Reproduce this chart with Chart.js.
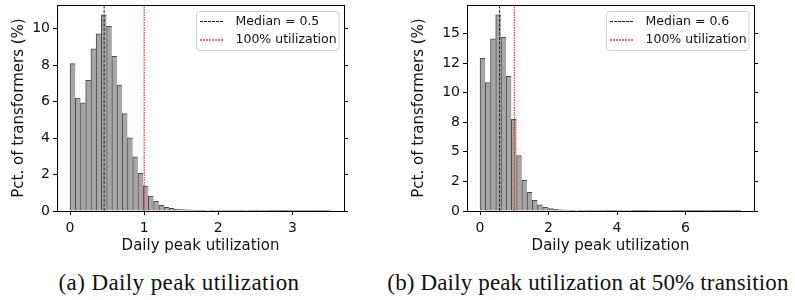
<!DOCTYPE html>
<html>
<head>
<meta charset="utf-8">
<script src="https://cdn.jsdelivr.net/npm/chart.js@4.4.0/dist/chart.umd.min.js"></script>
<style>
  body { margin: 0; background: #fff; width: 795px; height: 300px; position: relative; overflow: hidden; }
  .panel { position: absolute; top: 0; width: 395px; height: 255px; }
  .caption { position: absolute; top: 271px; font-family: 'Liberation Serif', serif; font-size: 23px; line-height: 23px;
             text-align: center; color: #111; white-space: nowrap; }
</style>
</head>
<body>
<div class="panel" style="left:0"><canvas id="left"></canvas></div>
<div class="panel" style="left:400px"><canvas id="right"></canvas></div>
<div class="caption" style="left:0;width:358px;letter-spacing:0.4px">(a) Daily peak utilization</div>
<div class="caption" style="left:383px;width:410px;letter-spacing:0.15px">(b) Daily peak utilization at 50% transition</div>
<script>
// histogram values (% of transformers per bin), 50 bins each
const leftValues = [8.08, 6.2, 5.93, 7.17, 8.9, 9.72, 10.76, 10.13, 8.48, 6.91,
  5.35, 4.01, 2.97, 2.06, 1.37, 0.82, 0.53, 0.31, 0.2, 0.15,
  0.11, 0.08, 0.06, 0.05, 0.04, 0.03, 0.025, 0.02, 0.018, 0.015,
  0.012, 0.01, 0.01, 0.008, 0.007, 0.006, 0.005, 0.005, 0.004, 0.004,
  0.003, 0.003, 0.002, 0.002, 0.002, 0.001, 0.001, 0.001, 0.001, 0.001];
const leftBinWidth = 0.0704;
const leftMedian = 0.46;

const rightValues = [12.9, 10.85, 14.55, 16.57, 14.66, 11.38, 7.74, 4.68, 2.6, 1.57,
  0.9, 0.53, 0.31, 0.2, 0.14, 0.1, 0.07, 0.05, 0.04, 0.03,
  0.025, 0.02, 0.016, 0.013, 0.01, 0.008, 0.007, 0.006, 0.005, 0.004,
  0.004, 0.003, 0.003, 0.002, 0.002, 0.002, 0.002, 0.001, 0.001, 0.001,
  0.001, 0.001, 0.001, 0.001, 0.001, 0.001, 0.001, 0.001, 0.001, 0.001];
const rightBinWidth = 0.1524;
const rightMedian = 0.57;

const fullUtilization = 1;

const leftXTicks = [0, 1, 2, 3];
const leftYTicks = [0, 2, 4, 6, 8, 10];
const leftYLabels = ['0', '2', '4', '6', '8', '10'];
const rightXTicks = [0, 2, 4, 6];
const rightYTicks = [0, 2.5, 5, 7.5, 10, 12.5, 15];
const rightYLabels = ['0', '2', '5', '8', '10', '12', '15'];

const leftLegend = ['Median = 0.5', '100% utilization'];
const rightLegend = ['Median = 0.6', '100% utilization'];

const medianColor = '#222';
const medianDash = [3, 1.5];
const fullColor = '#ff0000';
const fullDash = [1.5, 1];

Chart.defaults.font.family = "'DejaVu Sans', sans-serif";
Chart.defaults.color = '#111';

const framePlugin = {
  id: 'frame',
  afterDraw(chart) {
    const {ctx, chartArea: a} = chart;
    ctx.save();
    ctx.strokeStyle = '#000';
    ctx.lineWidth = 1;
    ctx.strokeRect(Math.floor(a.left) + 0.5, Math.floor(a.top) + 0.5,
      Math.round(a.right - a.left), Math.round(a.bottom - a.top));
    ctx.restore();
  }
};

// legend box inside the plot, top right
function boxLegend(labels) {
  const items = [
    {text: labels[0], color: medianColor, on: 3, off: 1, thick: 1},
    {text: labels[1], color: 'rgba(255,0,0,0.6)', on: 2, off: 1, thick: 2}
  ];
  return {
    id: 'boxLegend',
    afterDatasetsDraw(chart) {
      const {ctx, chartArea: a} = chart;
      const w = 142.5, h = 39;
      const x = Math.round(a.right - 6 - w), y = Math.round(a.top + 6);
      ctx.save();
      ctx.fillStyle = 'rgba(255,255,255,0.85)';
      ctx.strokeStyle = '#d0d0d0';
      ctx.lineWidth = 1;
      ctx.beginPath();
      ctx.roundRect(x + 0.5, y + 0.5, w, h, 3);
      ctx.fill();
      ctx.stroke();
      items.forEach((it, i) => {
        const cy = Math.round(y + 10 + i * 18);
        ctx.fillStyle = it.color;
        for (let sx = x + 4; sx < x + 28; sx += it.on + it.off) {
          ctx.fillRect(sx, cy, Math.min(it.on, x + 28 - sx), it.thick);
        }
        ctx.fillStyle = '#111';
        ctx.font = "12.5px 'DejaVu Sans'";
        ctx.textBaseline = 'middle';
        ctx.fillText(it.text, x + 39.5, cy + 1);
      });
      ctx.restore();
    }
  };
}

function makeChart(id, c) {
  const W = 395, H = 255;
  const p = c.plot;
  const bars = c.values.map((v, i) => ({x: (i + 0.5) * c.binWidth, y: v}));
  return new Chart(document.getElementById(id), {
    type: 'bar',
    data: {
      datasets: [
        {
          type: 'line', order: 0, xAxisID: 'x', yAxisID: 'y',
          data: [{x: c.median, y: 0}, {x: c.median, y: c.yMax}],
          borderColor: medianColor, borderWidth: 1, borderDash: medianDash, pointRadius: 0
        },
        {
          type: 'line', order: 0, xAxisID: 'x', yAxisID: 'y',
          data: [{x: fullUtilization, y: 0}, {x: fullUtilization, y: c.yMax}],
          borderColor: fullColor, borderWidth: 1, borderDash: fullDash, pointRadius: 0
        },
        {
          type: 'bar', order: 1, xAxisID: 'x', yAxisID: 'y',
          data: bars,
          backgroundColor: '#a6a6a6',
          borderColor: '#4a4a4a',
          borderWidth: {left: 1, top: 1, right: 0, bottom: 0},
          borderSkipped: false,
          barPercentage: 1, categoryPercentage: 1
        }
      ]
    },
    options: {
      responsive: true,
      maintainAspectRatio: false,
      animation: false,
      layout: {padding: {left: 0, top: p.top, right: W - p.right - 5, bottom: 0}},
      plugins: {
        legend: {display: false},
        tooltip: {enabled: false}
      },
      scales: {
        x: {
          type: 'linear', min: c.xRange[0], max: c.xRange[1], offset: false,
          afterBuildTicks: s => { s.ticks = c.xTicks.map(v => ({value: v})); },
          afterFit: s => { s.height = H - p.bottom; s.paddingLeft = 0; s.paddingRight = 0; },
          grid: {drawOnChartArea: false, offset: false, tickLength: 4, color: '#000'},
          border: {display: false},
          ticks: {padding: 5, font: {size: 14}, maxRotation: 0, callback: v => String(v)},
          title: {display: true, text: 'Daily peak utilization', font: {size: 15}, padding: {top: 0, bottom: 0}}
        },
        y: {
          type: 'linear', position: 'left', min: 0, max: c.yMax,
          afterBuildTicks: s => { s.ticks = c.yTicks.map(v => ({value: v})); },
          afterFit: s => { s.width = p.left; s.paddingTop = 0; s.paddingBottom = 0; },
          grid: {drawOnChartArea: false, tickLength: 4, color: '#000'},
          border: {display: false},
          ticks: {padding: 3, font: {size: 14}, callback: v => c.yLabels[c.yTicks.indexOf(v)]},
          title: {display: true, text: 'Pct. of transformers (%)', font: {size: 15}, padding: {top: 10, bottom: 0}}
        },
        y2: {
          type: 'linear', position: 'right', min: 0, max: c.yMax,
          afterBuildTicks: s => { s.ticks = c.yTicks.map(v => ({value: v})); },
          afterFit: s => { s.width = 5; s.paddingTop = 0; s.paddingBottom = 0; },
          grid: {drawOnChartArea: false, tickLength: 4, color: '#000'},
          border: {display: false},
          ticks: {display: false}
        }
      }
    },
    plugins: [boxLegend(c.legend), framePlugin]
  });
}

makeChart('left', {
  values: leftValues, binWidth: leftBinWidth, median: leftMedian,
  xRange: [-0.176, 3.696], yMax: 11.3,
  xTicks: leftXTicks, yTicks: leftYTicks, yLabels: leftYLabels,
  legend: leftLegend,
  plot: {left: 57, right: 344, top: 5, bottom: 211}
});

makeChart('right', {
  values: rightValues, binWidth: rightBinWidth, median: rightMedian,
  xRange: [-0.381, 8.0], yMax: 17.4,
  xTicks: rightXTicks, yTicks: rightYTicks, yLabels: rightYLabels,
  legend: rightLegend,
  plot: {left: 67, right: 354, top: 5, bottom: 211}
});
</script>
</body>
</html>
